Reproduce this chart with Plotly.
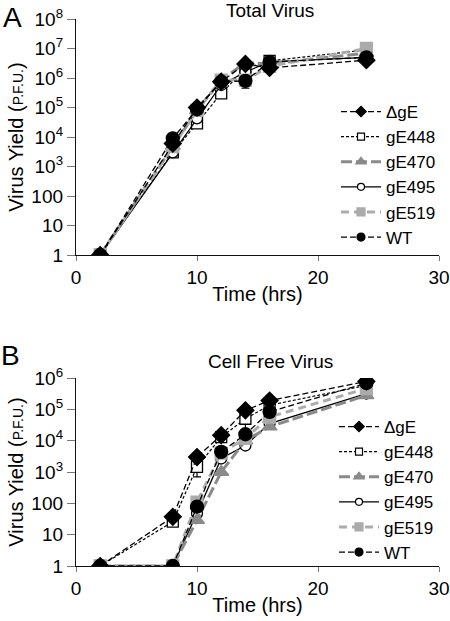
import plotly.graph_objects as go
from plotly.subplots import make_subplots

time_hrs = [2, 8, 10, 12, 14, 16, 24]
series_names = ["ΔgE", "gE448", "gE470", "gE495", "gE519", "WT"]

# Panel A: Total virus yield (PFU)
total_dgE   = [1, 6000, 100000, 750000, 3000000, 2200000, 4000000]
total_gE448 = [1, 3000, 29000, 300000, 2100000, 3800000, 9000000]
total_gE470 = [1, 5000, 80000, 850000, 3300000, 3000000, 7000000]
total_gE495 = [1, 3000, 43000, 580000, 1600000, 3500000, 5000000]
total_gE519 = [1, 4700, 80000, 850000, 850000, 2500000, 10000000]
total_WT    = [1, 9000, 87000, 750000, 800000, 3500000, 5000000]
total_WT_err_minus = [0, 0, 0, 0, 350000, 0, 0]

# Panel B: Cell free virus yield (PFU)
free_dgE   = [1, 37, 3000, 15000, 93000, 190000, 780000]
free_gE448 = [1, 26, 1450, 13000, 50000, 135000, 580000]
free_gE470 = [1, 1, 29, 1000, 10000, 28000, 280000]
free_gE495 = [1, 1, 48, 2700, 7000, 35000, 320000]
free_gE519 = [1, 1, 110, 4000, 12000, 57000, 460000]
free_WT    = [1, 1, 78, 4400, 16000, 83000, 690000]
free_gE448_err_minus = [0, 0, 750, 0, 28000, 0, 0]

y_tick_vals_A = [1, 10, 100, 1e3, 1e4, 1e5, 1e6, 1e7, 1e8]
y_tick_text_A = ["1", "10", "100", "10<sup>3</sup>", "10<sup>4</sup>", "10<sup>5</sup>",
                 "10<sup>6</sup>", "10<sup>7</sup>", "10<sup>8</sup>"]
y_tick_vals_B = [1, 10, 100, 1e3, 1e4, 1e5, 1e6]
y_tick_text_B = ["1", "10", "100", "10<sup>3</sup>", "10<sup>4</sup>", "10<sup>5</sup>",
                 "10<sup>6</sup>"]
x_tick_vals = [0, 10, 20, 30]

styles = {
    "ΔgE":   dict(color="black", width=1.3, dash="6px,3px", symbol="diamond", msize=13, mcolor="black", mline="black", lsize=8),
    "gE448": dict(color="black", width=1.2, dash="3px,2px", symbol="square-open", msize=11, mcolor="white", mline="black", lsize=7),
    "gE470": dict(color="#8a8a8a", width=3, dash="11px,4px", symbol="triangle-up", msize=13, mcolor="#8a8a8a", mline="#8a8a8a", lsize=9),
    "gE495": dict(color="black", width=1.3, dash="solid", symbol="circle-open", msize=11, mcolor="white", mline="black", lsize=7),
    "gE519": dict(color="#ababab", width=3, dash="8px,5px", symbol="square", msize=12, mcolor="#ababab", mline="#ababab", lsize=8),
    "WT":    dict(color="black", width=1.3, dash="6px,3px", symbol="circle", msize=13, mcolor="black", mline="black", lsize=8),
}

FONT = "Liberation Sans, Arial, Helvetica, sans-serif"

fig = make_subplots(rows=2, cols=1, vertical_spacing=0.0)

def add_series(name, y, row, err_minus=None):
    s = styles[name]
    marker = dict(symbol=s["symbol"], size=s["msize"], color=s["mcolor"],
                  line=dict(color=s["mline"], width=1.3))
    if s["symbol"].endswith("-open"):
        marker = dict(symbol=s["symbol"].replace("-open", ""), size=s["msize"], color="white",
                      line=dict(color="black", width=1.3))
    kw = {}
    if err_minus is not None:
        kw["error_y"] = dict(type="data", symmetric=False, array=[0] * len(err_minus),
                             arrayminus=err_minus, color="black", thickness=1.2, width=4)
    fig.add_trace(go.Scatter(x=time_hrs, y=y, mode="lines+markers", name=name,
                             line=dict(color=s["color"], width=s["width"], dash=s["dash"]),
                             marker=marker, showlegend=False, **kw), row=row, col=1)
    lm = dict(symbol=marker["symbol"], size=s["lsize"], color=marker["color"],
              line=dict(color=marker["line"]["color"], width=1.2))
    fig.add_trace(go.Scatter(x=[None], y=[None], mode="lines+markers", name=name,
                             line=dict(color=s["color"], width=s["width"], dash=s["dash"]),
                             marker=lm, showlegend=True,
                             legend="legend" if row == 1 else "legend2"), row=row, col=1)

order_A = [("gE448", total_gE448, None), ("gE495", total_gE495, None), ("gE470", total_gE470, None),
           ("gE519", total_gE519, None), ("ΔgE", total_dgE, None), ("WT", total_WT, total_WT_err_minus)]
order_B = [("gE448", free_gE448, free_gE448_err_minus), ("gE495", free_gE495, None), ("gE470", free_gE470, None),
           ("gE519", free_gE519, None), ("ΔgE", free_dgE, None), ("WT", free_WT, None)]

for n, y, e in order_A:
    add_series(n, y, 1, e)
for n, y, e in order_B:
    add_series(n, y, 2, e)

rank = {n: i for i, n in enumerate(series_names)}
for tr in fig.data:
    if tr.showlegend:
        tr.legendrank = rank[tr.name]

axis_common = dict(showline=True, linecolor="#111111", linewidth=1.3, showgrid=False, zeroline=False,
                   tickfont=dict(family=FONT, size=19, color="black"), tickwidth=1,
                   tickcolor="#777777", automargin=False, ticklabeloverflow="allow", ticks="outside")

L, R, T, B = 76, 11, 19, 55
W_PLOT = 450 - L - R
H_PLOT = 621 - T - B
yA_bottom = (566 - 255) / H_PLOT
yB_top = (566 - 378) / H_PLOT

def px_x(px):
    return (px - L) / W_PLOT

def px_y(py):
    return (621 - B - py) / H_PLOT

fig.update_xaxes(range=[0, 30], tickvals=x_tick_vals, domain=[0, 1], ticklen=5, **axis_common)
fig.update_layout(
    xaxis=dict(anchor="y"),
    xaxis2=dict(anchor="y2"),
    yaxis=dict(domain=[yA_bottom, 1], type="log", range=[0, 8], tickvals=y_tick_vals_A,
               ticktext=y_tick_text_A, ticklen=8, **axis_common),
    yaxis2=dict(domain=[0, yB_top], type="log", range=[0, 6], tickvals=y_tick_vals_B,
                ticktext=y_tick_text_B, ticklen=8, **axis_common),
)

title_font = dict(family=FONT, size=20, color="black")
ytitle = "Virus Yield (<span style='font-size:14px'>P.F.U.</span>)"
fig.update_xaxes(title=dict(text="Time (hrs)", font=title_font, standoff=0))
fig.update_yaxes(title=dict(text=ytitle, font=title_font, standoff=2))

legend_common = dict(font=dict(family=FONT, size=17, color="black"), bgcolor="rgba(0,0,0,0)",
                     itemwidth=40, tracegroupgap=0, xanchor="left", yanchor="top",
                     itemclick=False, itemdoubleclick=False)
fig.update_layout(
    legend=dict(x=px_x(336), y=px_y(94), **legend_common),
    legend2=dict(x=px_x(334), y=px_y(409), **legend_common),
)

annotations = [
    dict(text="Total Virus", x=px_x(270), y=px_y(11), xref="paper", yref="paper",
         showarrow=False, font=dict(family=FONT, size=19, color="black"), xanchor="center", yanchor="middle"),
    dict(text="Cell Free Virus", x=px_x(270), y=px_y(362), xref="paper", yref="paper",
         showarrow=False, font=dict(family=FONT, size=19, color="black"), xanchor="center", yanchor="middle"),
    dict(text="A", x=px_x(12), y=px_y(17), xref="paper", yref="paper",
         showarrow=False, font=dict(family=FONT, size=28, color="black"), xanchor="center", yanchor="middle"),
    dict(text="B", x=px_x(10), y=px_y(355), xref="paper", yref="paper",
         showarrow=False, font=dict(family=FONT, size=28, color="black"), xanchor="center", yanchor="middle"),
]

fig.update_layout(
    width=450, height=621,
    margin=dict(l=L, r=R, t=T, b=B, autoexpand=False),
    paper_bgcolor="white", plot_bgcolor="white",
    annotations=annotations,
    font=dict(family=FONT, color="black"),
)

fig.write_html("out.html", config={"displayModeBar": False},
               post_script="document.body.style.margin='0px';document.body.style.overflow='hidden';")
